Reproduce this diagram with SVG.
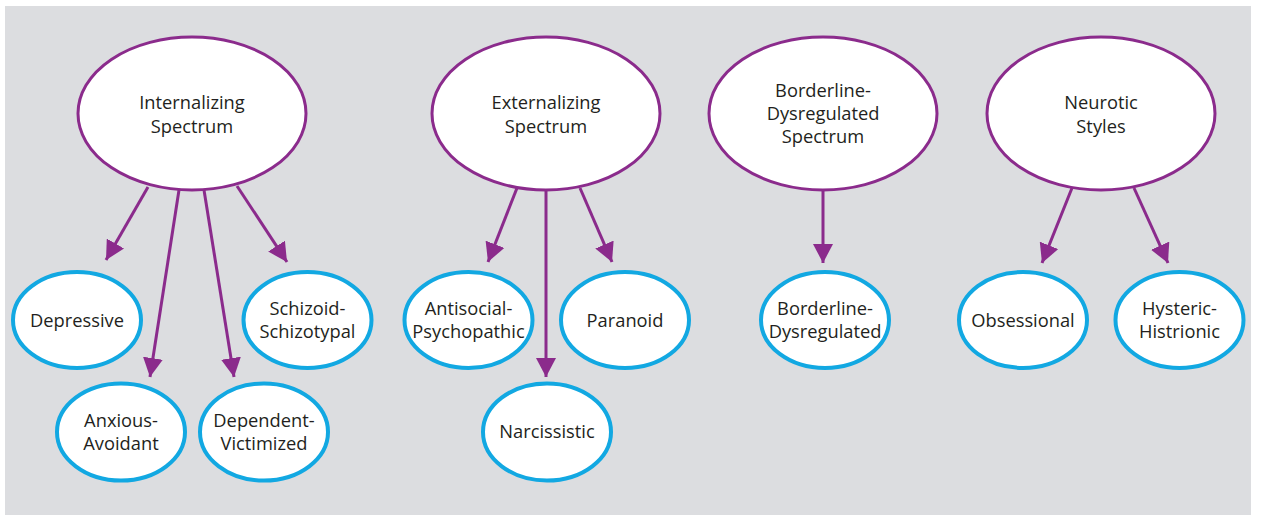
<svg xmlns="http://www.w3.org/2000/svg" width="1261" height="515" viewBox="0 0 1261 515">
<defs>
<marker id="ah" markerUnits="userSpaceOnUse" markerWidth="22" markerHeight="20" refX="19" refY="10" orient="auto">
<path d="M0,0 L19,10 L0,20 Z" fill="#8b2b8c"/>
</marker>
<style>
.bg{fill:#dcdde0}
.top{fill:#fff;stroke:#8b2b8c;stroke-width:3}
.sub{fill:#fff;stroke:#12a8e2;stroke-width:4}
.t{font-family:"Open Sans","Liberation Sans",sans-serif;font-size:18.3px;fill:#231f20;text-anchor:middle}
.c{stroke:#8b2b8c;stroke-width:3;fill:none;marker-end:url(#ah)}
</style>
</defs>
<rect x="0" y="0" width="1261" height="515" fill="#fff"/>
<rect class="bg" x="5" y="6" width="1246" height="509"/>
<g id="connectors">
<line class="c" x1="148" y1="187" x2="106" y2="260"/>
<line class="c" x1="179" y1="190" x2="150" y2="377"/>
<line class="c" x1="204" y1="190" x2="234" y2="377"/>
<line class="c" x1="237" y1="186" x2="287" y2="262"/>
<line class="c" x1="517" y1="188" x2="488" y2="262"/>
<line class="c" x1="546" y1="190" x2="546" y2="377"/>
<line class="c" x1="580" y1="188" x2="612" y2="262"/>
<line class="c" x1="823" y1="190" x2="823" y2="263"/>
<line class="c" x1="1072" y1="188" x2="1042" y2="263"/>
<line class="c" x1="1134" y1="188" x2="1168" y2="263"/>
</g>
<g id="internalizing"><ellipse class="top" cx="192" cy="113.5" rx="114" ry="76.5"/><text class="t" x="192" y="109">Internalizing</text><text class="t" x="192" y="133">Spectrum</text></g>
<g id="externalizing"><ellipse class="top" cx="546" cy="113.5" rx="114" ry="76.5"/><text class="t" x="546" y="109">Externalizing</text><text class="t" x="546" y="133">Spectrum</text></g>
<g id="borderline-spectrum"><ellipse class="top" cx="823" cy="113.5" rx="114" ry="76.5"/><text class="t" x="823" y="97">Borderline-</text><text class="t" x="823" y="120">Dysregulated</text><text class="t" x="823" y="143">Spectrum</text></g>
<g id="neurotic"><ellipse class="top" cx="1101" cy="113.5" rx="114" ry="76.5"/><text class="t" x="1101" y="109">Neurotic</text><text class="t" x="1101" y="133">Styles</text></g>
<g id="depressive"><ellipse class="sub" cx="77" cy="320" rx="64" ry="48"/><text class="t" x="77" y="327">Depressive</text></g>
<g id="schizoid"><ellipse class="sub" cx="307.5" cy="320" rx="64" ry="48"/><text class="t" x="307.5" y="315">Schizoid-</text><text class="t" x="307.5" y="338">Schizotypal</text></g>
<g id="anxious"><ellipse class="sub" cx="121" cy="432" rx="64" ry="48.5"/><text class="t" x="121" y="427">Anxious-</text><text class="t" x="121" y="450">Avoidant</text></g>
<g id="dependent"><ellipse class="sub" cx="264" cy="432" rx="64" ry="48.5"/><text class="t" x="264" y="427">Dependent-</text><text class="t" x="264" y="450">Victimized</text></g>
<g id="antisocial"><ellipse class="sub" cx="468.5" cy="320" rx="64" ry="48"/><text class="t" x="468.5" y="315">Antisocial-</text><text class="t" x="468.5" y="338">Psychopathic</text></g>
<g id="paranoid"><ellipse class="sub" cx="625" cy="320" rx="64" ry="48"/><text class="t" x="625" y="327">Paranoid</text></g>
<g id="narcissistic"><ellipse class="sub" cx="547" cy="432" rx="64" ry="48.5"/><text class="t" x="547" y="438">Narcissistic</text></g>
<g id="borderline"><ellipse class="sub" cx="825" cy="320" rx="64" ry="48"/><text class="t" x="825" y="315">Borderline-</text><text class="t" x="825" y="338">Dysregulated</text></g>
<g id="obsessional"><ellipse class="sub" cx="1023" cy="320" rx="64" ry="48"/><text class="t" x="1023" y="327">Obsessional</text></g>
<g id="hysteric"><ellipse class="sub" cx="1179.5" cy="320" rx="64" ry="48"/><text class="t" x="1179.5" y="315">Hysteric-</text><text class="t" x="1179.5" y="338">Histrionic</text></g>
</svg>
